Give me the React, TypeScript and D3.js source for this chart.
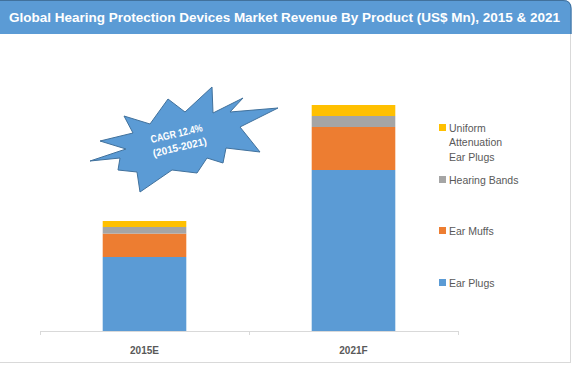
import React from 'react';
import * as d3 from 'd3';

// chart values (US$ Mn)
const years = ['2015E', '2021F'];
const earPlugs = [370, 805];
const earMuffs = [117, 215];
const hearingBands = [33, 55];
const uniformPlugs = [30, 55];

const seriesKeys = ['earPlugs', 'earMuffs', 'hearingBands', 'uniformPlugs'];
const seriesNames = ['Ear Plugs', 'Ear Muffs', 'Hearing Bands', 'Uniform Attenuation Ear Plugs'];
const colors = ['#5b9bd5', '#ed7d31', '#a5a5a5', '#ffc000'];

const title = 'Global Hearing Protection Devices Market Revenue By Product (US$ Mn), 2015 & 2021';

// starburst callout outline
const star: [number, number][] = [
  [124, 116], [150, 124], [168, 99], [185, 112], [212, 87], [213, 113], [243, 98],
  [230, 112], [278, 108], [240, 127], [260, 152], [226, 148], [223, 163], [207, 158],
  [197, 173], [172, 170], [140, 192], [137, 172], [118, 170], [120, 158], [90, 161],
  [126, 149], [100, 141], [133, 133],
];

export default function App() {
  const W = 573;
  const H = 365;
  const baseY = 331;

  const rows = years.map((y, i) => ({
    year: y,
    earPlugs: earPlugs[i],
    earMuffs: earMuffs[i],
    hearingBands: hearingBands[i],
    uniformPlugs: uniformPlugs[i],
  }));
  const stacked = d3.stack<any>().keys(seriesKeys)(rows);

  const x = d3.scaleBand().domain(years).range([40, 458]).paddingInner(0.6).paddingOuter(0.3);
  const y = d3.scaleLinear().domain([0, 1500]).range([baseY, 31]);

  const legendItems = [
    { i: 3, y: 124, lines: ['Uniform', 'Attenuation', 'Ear Plugs'] },
    { i: 2, y: 176, lines: ['Hearing Bands'] },
    { i: 1, y: 227, lines: ['Ear Muffs'] },
    { i: 0, y: 279, lines: ['Ear Plugs'] },
  ];

  const font = '"Liberation Sans", Arial, sans-serif';
  const starPath = d3.line()(star) + 'Z';

  return (
    <svg width={W} height={H} style={{ position: 'absolute', left: 0, top: 0, background: '#fff' }} fontFamily={font}>
      {/* card border */}
      <line x1={570.5} x2={570.5} y1={30} y2={362.5} stroke="#d9d9d9" />
      <line x1={0} x2={571} y1={362.5} y2={362.5} stroke="#d9d9d9" />

      {/* title bar */}
      <path d="M0,0 H563 Q571.5,0 571.5,8.5 V34 H0 Z" fill="#5b9bd5" />
      <path d="M0,0.5 H563 Q571,0.5 571,8.5 V34" fill="none" stroke="#41719c" strokeWidth={1} />
      <text x={9} y={22} fill="#fff" fontSize={13} fontWeight="bold" textLength={551} lengthAdjust="spacingAndGlyphs">
        {title}
      </text>

      {/* bars */}
      {stacked.map((s, si) => (
        <g key={s.key} fill={colors[si]}>
          {s.map((d, di) => (
            <rect
              key={di}
              x={x(years[di])}
              width={x.bandwidth()}
              y={y(d[1])}
              height={y(d[0]) - y(d[1])}
            />
          ))}
        </g>
      ))}

      {/* axis */}
      <line x1={40} x2={458} y1={baseY + 0.5} y2={baseY + 0.5} stroke="#d9d9d9" />
      {[40, 249, 458].map((t) => (
        <line key={t} x1={t + 0.5} x2={t + 0.5} y1={baseY} y2={baseY + 4} stroke="#d9d9d9" />
      ))}
      {years.map((yr) => (
        <text
          key={yr}
          x={(x(yr) as number) + x.bandwidth() / 2}
          y={354}
          textAnchor="middle"
          fontSize={10}
          fontWeight="bold"
          fill="#595959"
        >
          {yr}
        </text>
      ))}

      {/* legend */}
      {legendItems.map((it) => (
        <g key={it.i}>
          <rect x={439} y={it.y} width={7} height={7} fill={colors[it.i]} />
          {it.lines.map((ln, li) => (
            <text key={li} x={449} y={it.y + 7.5 + li * 14.5} fontSize={10.5} fill="#595959">
              {ln}
            </text>
          ))}
        </g>
      ))}

      {/* CAGR starburst */}
      <path d={starPath} fill="#5b9bd5" stroke="#41719c" strokeWidth={1} strokeLinejoin="miter" />
      <g transform="rotate(-13, 178, 140)" fill="#fff" fontSize={10.5} fontWeight="bold" textAnchor="middle">
        <text x={178} y={137} textLength={53} lengthAdjust="spacingAndGlyphs">CAGR 12.4%</text>
        <text x={178} y={151} textLength={55} lengthAdjust="spacingAndGlyphs">(2015-2021)</text>
      </g>
    </svg>
  );
}
